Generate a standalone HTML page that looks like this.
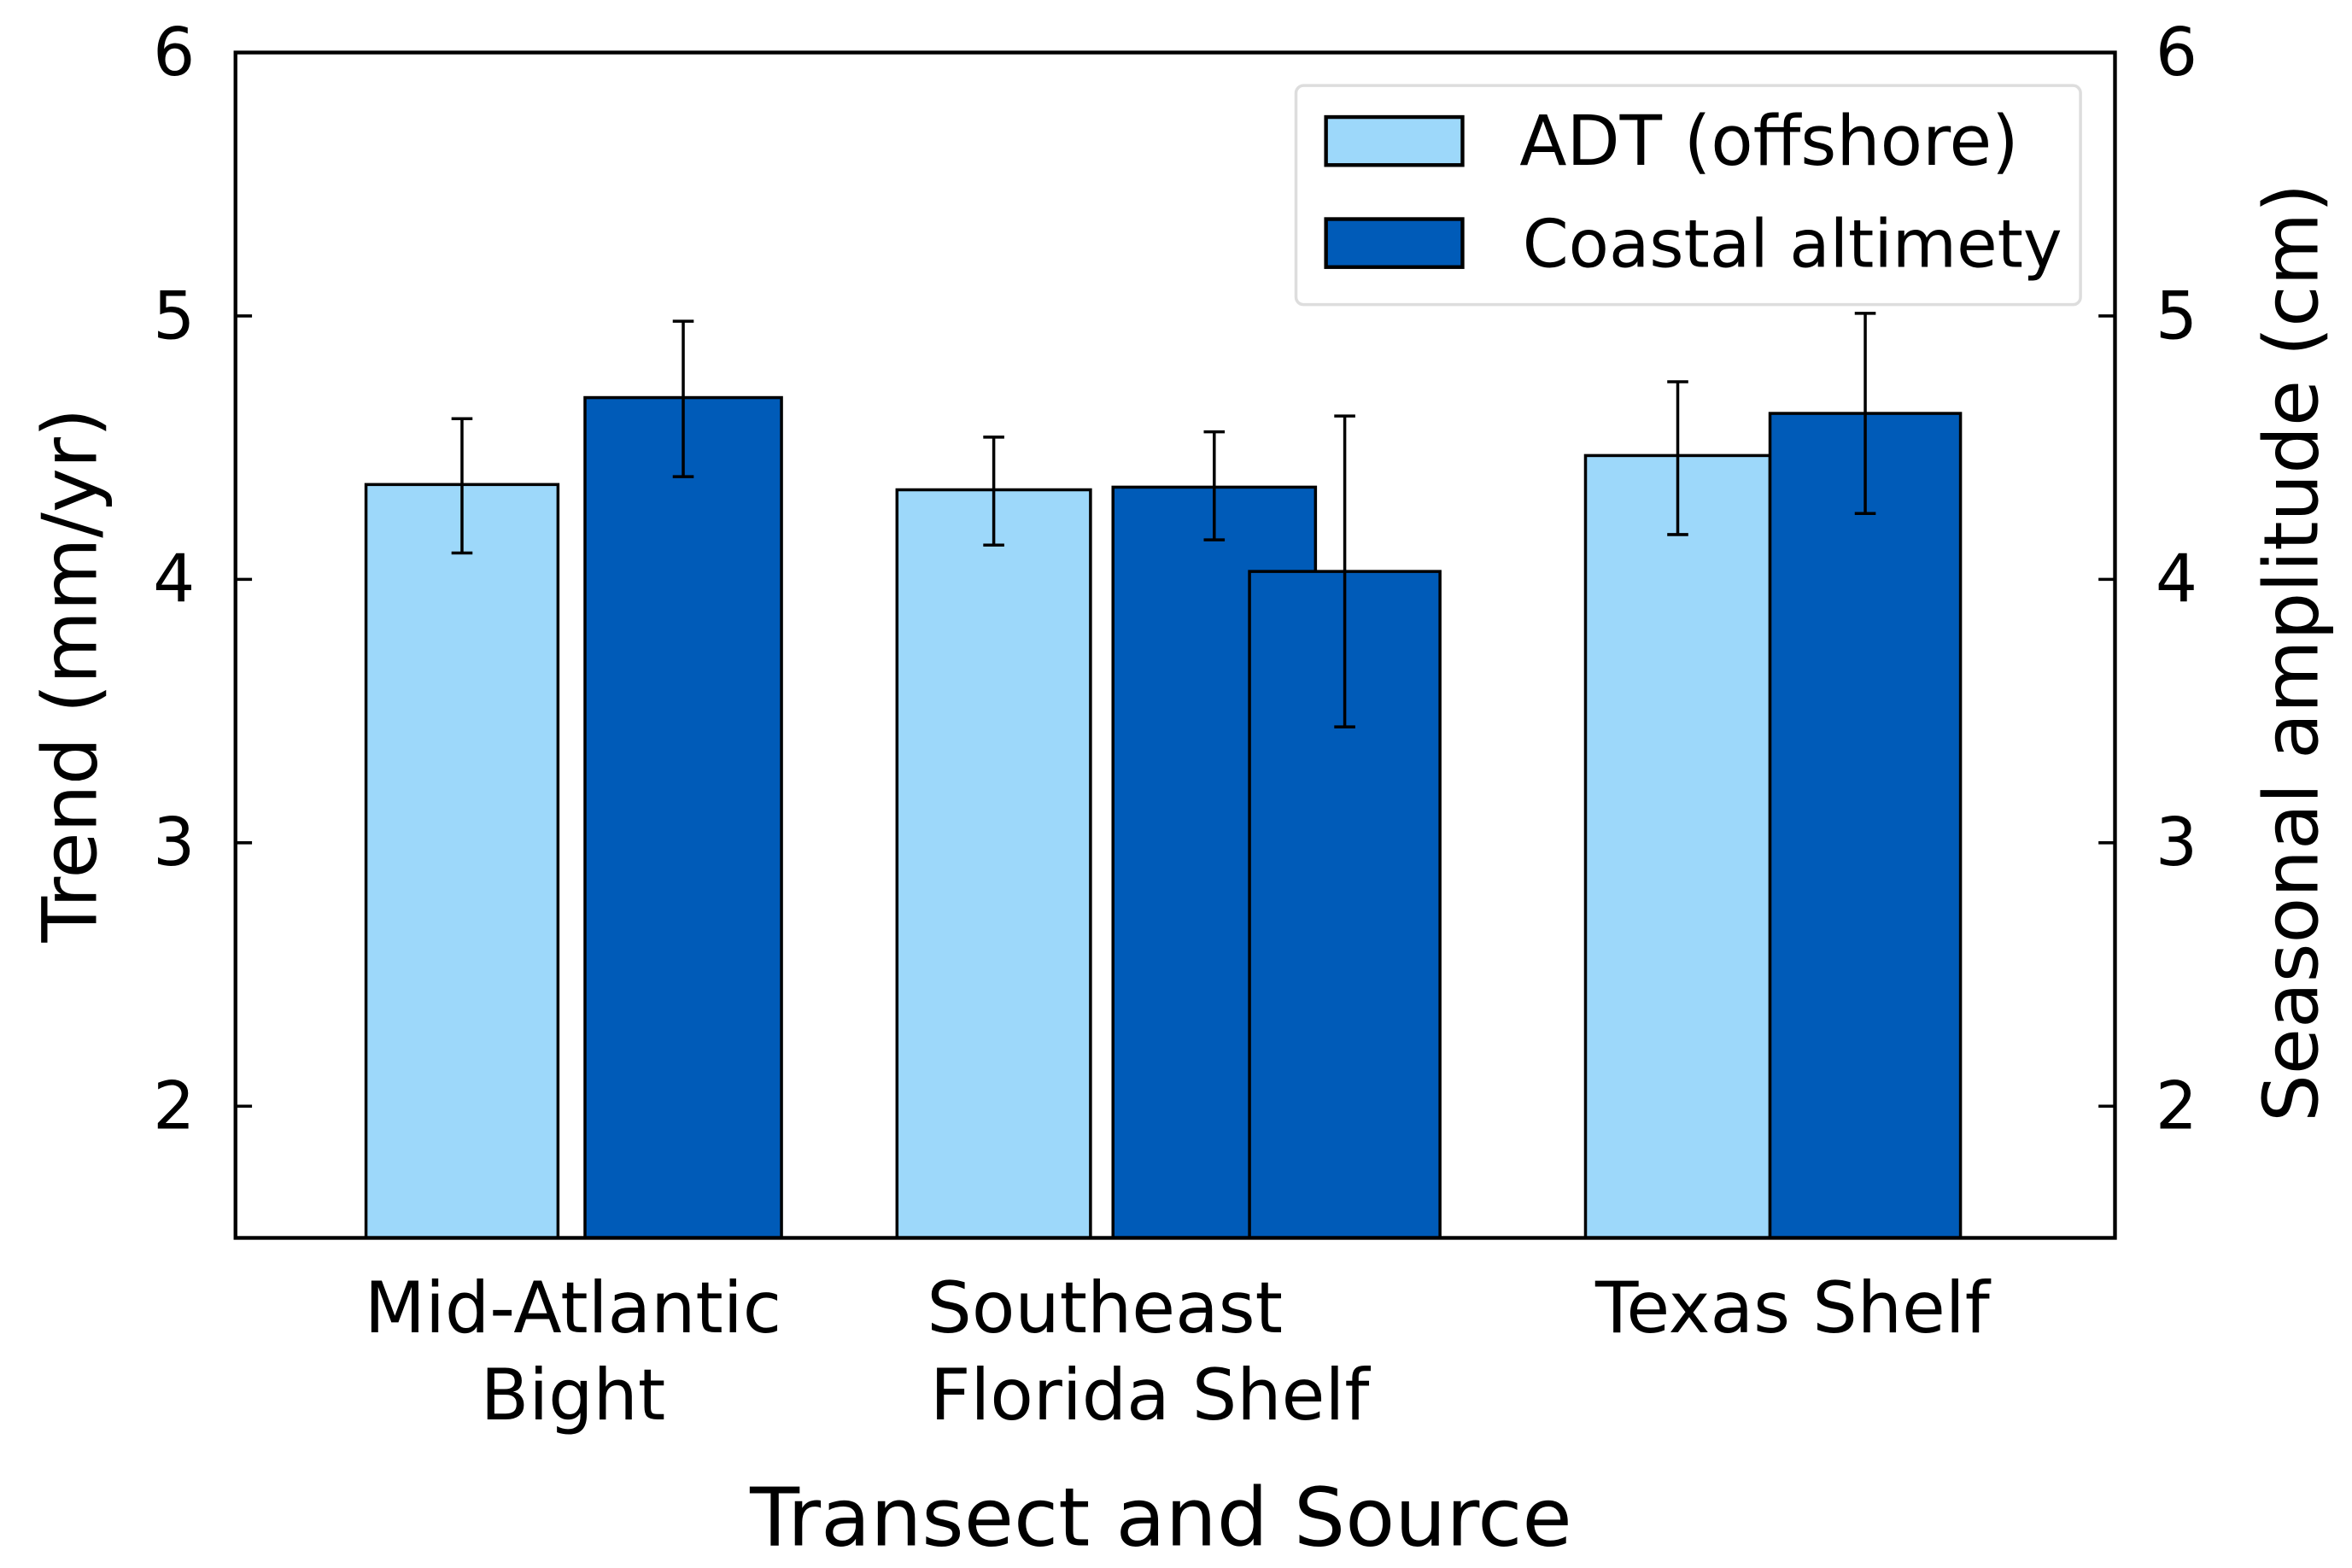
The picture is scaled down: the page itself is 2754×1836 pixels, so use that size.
<!DOCTYPE html>
<html><head><meta charset="utf-8"><style>
html,body{margin:0;padding:0;background:#fff}
svg{display:block}
text{font-family:"DejaVu Sans","Liberation Sans",sans-serif;fill:#000}
</style></head><body>
<svg id="chart" width="2754" height="1836" viewBox="0 0 1568 1045" preserveAspectRatio="none" xmlns="http://www.w3.org/2000/svg">
<g id="bars"></g>
<g id="errs"></g>
<rect x="157" y="35" width="1253" height="790" fill="none" stroke="#000" stroke-width="2.5"/>
<g id="ticks"></g>
<text transform="translate(64,450) rotate(-90)" text-anchor="middle" font-size="50">Trend (mm/yr)</text>
<text transform="translate(1545,435) rotate(-90)" text-anchor="middle" font-size="50">Seasonal amplitude (cm)</text>
<text x="774" y="1030" text-anchor="middle" font-size="54">Transect and Source</text>
<text x="382" y="888" text-anchor="middle" font-size="47">Mid-Atlantic</text>
<text x="382" y="946" text-anchor="middle" font-size="47">Bight</text>
<text x="618" y="888" font-size="47">Southeast</text>
<text x="620" y="946" font-size="47">Florida Shelf</text>
<text x="1195" y="888" text-anchor="middle" font-size="47">Texas Shelf</text>
<g>
<rect x="864" y="57" width="523" height="146" rx="5" fill="#fff" stroke="#ddd" stroke-width="2"/>
<rect x="884" y="78" width="91" height="32" fill="#9dd8fa" stroke="#000" stroke-width="2.5"/>
<text x="1013" y="110" font-size="46">ADT (offshore)</text>
<rect x="884" y="146" width="91" height="32" fill="#005bb8" stroke="#000" stroke-width="2.5"/>
<text x="1015" y="178" font-size="44">Coastal altimety</text>
</g>
</svg>
<script>
const seriesNames=["adt","coastal","adt","coastal","coastal","adt","coastal"];
const barValues=[4.36,4.69,4.34,4.35,4.03,4.47,4.63];
const errHigh=[4.61,4.98,4.54,4.56,4.62,4.75,5.01];
const errLow=[4.10,4.39,4.13,4.15,3.44,4.17,4.25];
const tickValues=[2,3,4,5,6];
const tickLabels=["2","3","4","5","6"];
// layout (bar slot positions, not data)
const slotLeft=[244,390,598,742,833,1057,1180];
const slotWidth=[128,131,129,135,127,123,127];
const yMin=1.5,yMax=6,plotTop=35,plotBot=825;
function y(v){return plotBot-(v-yMin)/(yMax-yMin)*(plotBot-plotTop);}
const NS="http://www.w3.org/2000/svg";
const gb=document.getElementById('bars'),ge=document.getElementById('errs'),gt=document.getElementById('ticks');
function mk(tag,attrs,parent){const e=document.createElementNS(NS,tag);for(const k in attrs)e.setAttribute(k,attrs[k]);parent.appendChild(e);return e;}
barValues.forEach((v,i)=>{
  const r=mk('rect',{x:slotLeft[i],y:y(v),width:slotWidth[i],height:plotBot-y(v),fill:seriesNames[i]==='adt'?'#9dd8fa':'#005bb8',stroke:'#000','stroke-width':2},gb);
  
  
  const cx=slotLeft[i]+slotWidth[i]/2;
  const g=mk('g',{stroke:'#000','stroke-width':2},ge);
  
  
  mk('line',{x1:cx,x2:cx,y1:y(errHigh[i]),y2:y(errLow[i])},g);
  mk('line',{x1:cx-7,x2:cx+7,y1:y(errHigh[i]),y2:y(errHigh[i])},g);
  mk('line',{x1:cx-7,x2:cx+7,y1:y(errLow[i]),y2:y(errLow[i])},g);
});
tickValues.forEach((t,i)=>{
  const yy=y(t);
  const l=mk('line',{x1:157,x2:168,y1:yy,y2:yy,stroke:'#000','stroke-width':2},gt);
  
  
  const r=mk('line',{x1:1399,x2:1410,y1:yy,y2:yy,stroke:'#000','stroke-width':2},gt);
  
  
  const a=mk('text',{x:130,y:yy+15,'text-anchor':'end','font-size':44},gt);a.textContent=tickLabels[i];
  
  
  const b=mk('text',{x:1437,y:yy+15,'font-size':44},gt);b.textContent=tickLabels[i];
  
  
});
</script>
</body></html>
